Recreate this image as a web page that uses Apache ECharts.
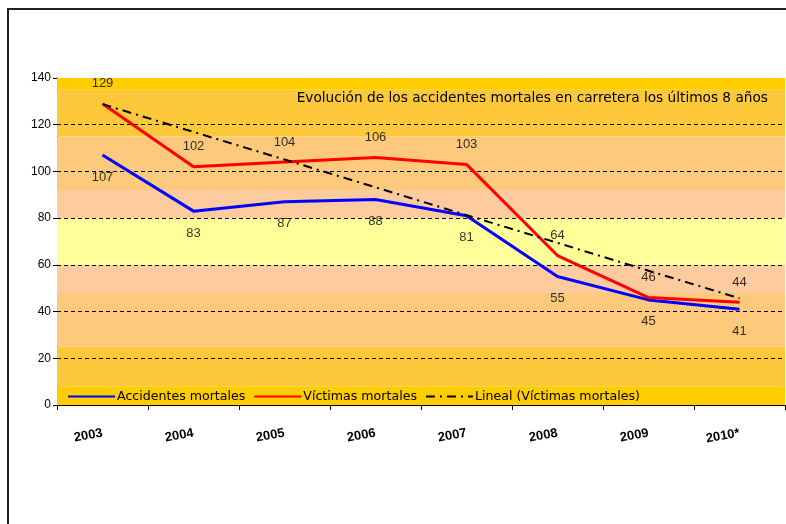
<!DOCTYPE html>
<html>
<head>
<meta charset="utf-8">
<script src="https://cdn.jsdelivr.net/npm/echarts@6/dist/echarts.min.js"></script>
<style>html,body{margin:0;padding:0;background:#fff}#c{width:786px;height:524px}</style>
</head>
<body>
<div id="c"></div>
<script>
const categories = ['2003','2004','2005','2006','2007','2008','2009','2010*'];
const accidentes = [107, 83, 87, 88, 81, 55, 45, 41];
const victimas = [129, 102, 104, 106, 103, 64, 46, 44];
const lineal = [128.8, 116.9, 105.1, 93.2, 81.3, 69.4, 57.5, 45.7];
const gridValues = [20, 40, 60, 80, 100, 120];
const bandStops = [0, 8, 25, 48, 60, 80, 92, 115, 135, 140];
const bandColors = ['#ffcc00', '#fdc93a', '#fdc97c', '#fdcb9e', '#ffff99', '#fdcb9e', '#fdc97c', '#fdc93a', '#ffcc00'];
const titleText = 'Evolución de los accidentes mortales en carretera los últimos 8 años';
const seriesNames = ['Accidentes mortales', 'Víctimas mortales', 'Lineal (Víctimas mortales)'];

const chart = echarts.init(document.getElementById('c'), null, {renderer: 'canvas'});
const bands = [];
for (let i = 0; i < bandColors.length; i++) {
  bands.push([{yAxis: bandStops[i], itemStyle: {color: bandColors[i]}}, {yAxis: bandStops[i + 1]}]);
}
const font = '"Liberation Sans", Arial, sans-serif';
const labelStyle = {show: true, fontFamily: font, fontSize: 13, color: '#000'};
chart.setOption({
  animation: false,
  backgroundColor: '#fff',
  grid: {left: 57, right: 1, top: 78, bottom: 119},
  graphic: [
    {type: 'rect', shape: {x: 8, y: 9, width: 900, height: 700}, style: {fill: null, stroke: '#222', lineWidth: 2}, z: 100},
    {type: 'text', right: 18, top: 91, style: {text: titleText, font: '13.7px "DejaVu Sans", sans-serif', fill: '#000'}, z: 50}
  ],
  legend: {
    data: seriesNames,
    left: 62, top: 385,
    itemWidth: 47, itemHeight: 12, itemGap: 8,
    itemStyle: {opacity: 0},
    textStyle: {fontFamily: '"DejaVu Sans", sans-serif', fontSize: 12.6, color: '#000', padding: [0, 0, 0, -3]}
  },
  xAxis: {
    type: 'category', data: categories, boundaryGap: true,
    axisLine: {lineStyle: {color: '#000', width: 1}},
    axisTick: {show: true, length: 5, lineStyle: {color: '#000'}},
    axisLabel: {rotate: 10, margin: 28, fontFamily: font, fontSize: 13, fontWeight: 'bold', color: '#000'},
    splitLine: {show: false}
  },
  yAxis: {
    type: 'value', min: 0, max: 140, interval: 20,
    axisLine: {show: true, lineStyle: {color: '#000', width: 1}},
    axisTick: {show: true, length: 4, lineStyle: {color: '#000'}},
    axisLabel: {margin: 6, fontFamily: font, fontSize: 12, color: '#000'},
    splitLine: {show: false}
  },
  series: [
    {
      name: 'bg', type: 'line', data: [], silent: true, z: 1,
      markArea: {silent: true, data: bands},
      markLine: {silent: true, symbol: 'none', label: {show: false},
        lineStyle: {color: '#000', type: [4, 3], width: 1},
        data: gridValues.map(v => ({yAxis: v}))}
    },
    {
      name: seriesNames[0], type: 'line', data: accidentes, symbol: 'none', z: 5,
      lineStyle: {color: '#0000ff', width: 3}, itemStyle: {color: '#0000ff'}
    },
    {
      name: seriesNames[1], type: 'line', data: victimas, symbol: 'none', z: 6,
      lineStyle: {color: '#ff0000', width: 3}, itemStyle: {color: '#ff0000'}
    },
    {
      name: seriesNames[2], type: 'line', data: lineal, symbol: 'none', z: 7,
      lineStyle: {color: '#000', width: 2, type: [9, 5, 2, 5]}, itemStyle: {color: '#000'}
    },
    {
      name: 'lblA', type: 'scatter', data: accidentes, symbolSize: 1, z: 8, silent: true,
      itemStyle: {color: 'rgba(0,0,0,0)'},
      label: Object.assign({position: 'bottom', distance: 15}, labelStyle)
    },
    {
      name: 'lblV', type: 'scatter', data: victimas, symbolSize: 1, z: 8, silent: true,
      itemStyle: {color: 'rgba(0,0,0,0)'},
      label: Object.assign({position: 'top', distance: 13}, labelStyle)
    }
  ]
});
</script>
</body>
</html>
